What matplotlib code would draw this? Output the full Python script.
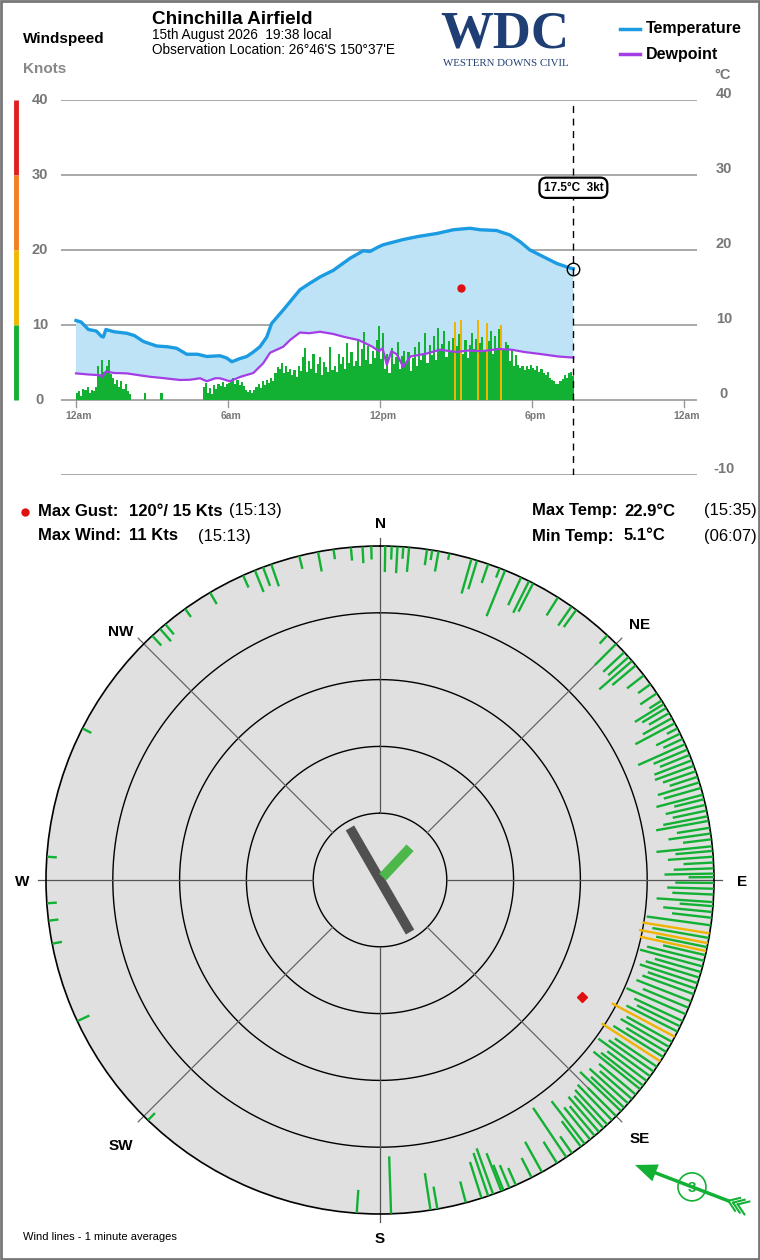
import numpy as np
import matplotlib
matplotlib.use("Agg")
import matplotlib.pyplot as plt
from matplotlib.patches import Rectangle, Polygon, Circle

plt.rcParams['font.family'] = ['Liberation Sans', 'DejaVu Sans']

# ---------------- data ----------------
TEMP_H = [0.0, 0.2, 0.49, 0.8, 1.0, 1.08, 1.18, 1.5, 2.0, 2.3, 2.66, 3.18, 3.6, 3.97, 4.37, 4.8,
          5.16, 5.68, 5.95, 6.15, 6.45, 6.74, 7.0, 7.26, 7.53, 7.72, 8.18, 8.84, 9.2, 9.63, 10.16,
          10.82, 11.34, 11.6, 11.93, 12.13, 12.92, 13.5, 14.24, 14.9, 15.55, 15.95, 16.6, 17.13,
          17.53, 17.92, 18.45, 18.98, 19.5, 19.63]
TEMP_C = [10.6, 10.4, 9.4, 9.2, 8.5, 8.4, 9.4, 9.1, 8.9, 8.6, 7.8, 7.2, 7.1, 6.9, 6.1, 6.1,
          5.8, 5.9, 5.6, 5.1, 5.5, 5.8, 6.4, 7.1, 8.4, 10.2, 12.0, 14.7, 15.5, 16.4, 17.3,
          18.9, 19.9, 19.8, 20.4, 20.7, 21.4, 21.8, 22.2, 22.7, 22.9, 22.7, 22.6, 22.0,
          21.1, 20.0, 19.1, 18.2, 17.6, 17.5]

DEW_H = [0.0, 0.5, 0.95, 1.05, 1.18, 1.5, 2.0, 2.5, 2.92, 3.5, 4.1, 4.5, 4.9, 5.16, 5.5, 5.68,
         6.07, 6.5, 7.0, 7.39, 7.66, 8.18, 8.45, 8.84, 9.2, 9.63, 10.16, 10.6, 11.15, 11.4, 11.7,
         11.96, 12.1, 12.27, 12.45, 12.66, 12.92, 13.2, 13.85, 14.37, 15.0, 15.5, 16.0, 16.7,
         17.2, 17.7, 18.4, 19.04, 19.63]
DEW_C = [3.55, 3.4, 3.3, 3.1, 3.8, 3.6, 3.55, 3.3, 3.1, 2.9, 2.67, 2.7, 2.9, 2.5, 2.9, 2.9,
         2.5, 3.1, 3.6, 4.9, 6.3, 7.1, 8.0, 9.0, 8.9, 9.1, 8.8, 8.4, 8.0, 7.6, 7.1,
         6.5, 6.9, 4.7, 6.5, 6.1, 4.4, 5.8, 6.2, 6.7, 6.4, 6.6, 6.5, 6.8,
         6.7, 6.4, 6.1, 5.8, 5.65]

# wind speed (kt), 5-minute steps from midnight
WIND_STEP_MIN = 5
WIND_KT = [
    0.9, 1.2, 0.6, 1.5, 1.3, 1.8, 1.0, 1.4, 1.2, 1.8, 4.5, 3.2,
    5.4, 3.8, 4.6, 5.3, 3.5, 2.9, 2.2, 2.7, 1.8, 2.5, 1.5, 2.1,
    1.2, 0.8, 0, 0, 0, 0, 0, 0, 0.9, 0, 0, 0,
    0, 0, 0, 0, 0.9, 0, 0, 0, 0, 0, 0, 0,
    0, 0, 0, 0, 0, 0, 0, 0, 0, 0, 0, 0,
    1.8, 2.3, 1.0, 1.6, 0.8, 2.0, 1.5, 2.2, 1.9, 2.4, 1.7, 2.1,
    2.3, 2.6, 2.9, 2.2, 2.7, 2.0, 2.4, 1.9, 1.3, 1.1, 1.4, 1.0,
    1.3, 1.8, 2.2, 1.6, 2.5, 2.0, 2.7, 2.3, 3.0, 2.6, 3.6, 4.4,
    4.2, 4.9, 3.6, 4.5, 3.8, 4.2, 3.4, 4.0, 3.1, 4.6, 3.9, 5.8,
    6.9, 3.8, 5.2, 4.1, 6.2, 3.6, 4.8, 5.8, 3.4, 5.1, 4.4, 3.8,
    7.1, 4.0, 4.6, 3.7, 6.2, 4.8, 5.8, 4.2, 7.6, 5.0, 6.4, 4.5,
    5.2, 8.2, 4.6, 6.8, 9.1, 5.4, 7.2, 4.8, 6.5, 5.6, 8.0, 9.9,
    5.5, 8.9, 4.2, 6.1, 3.6, 7.0, 4.8, 5.7, 7.8, 4.1, 5.9, 6.6,
    4.8, 6.4, 3.9, 5.6, 7.1, 4.5, 7.8, 5.3, 6.2, 8.9, 5.0, 7.4,
    6.0, 8.5, 5.4, 9.6, 6.8, 7.5, 9.2, 5.8, 7.9, 6.5, 8.3, 10.4,
    7.2, 8.8, 10.7, 6.1, 8.0, 5.6, 7.4, 9.0, 6.8, 8.2, 10.7, 7.6,
    8.4, 6.6, 10.3, 7.9, 9.2, 6.2, 8.5, 7.0, 9.5, 10.0, 6.8, 7.7,
    7.3, 5.2, 6.8, 4.6, 6.0, 4.7, 4.3, 4.6, 4.0, 4.5, 4.2, 4.7,
    4.3, 4.0, 4.5, 3.8, 4.1, 3.6, 3.4, 3.8, 3.0, 2.7, 2.5, 2.2,
    2.1, 2.5, 2.8, 3.3, 3.0, 3.6, 3.8, 3.2,
]

NOW_H = 19 + 38 / 60
NOW_TEMP = 17.5
NOW_WIND = 3
NOW_WIND_FROM = 111
MAX_GUST_H = 15 + 13 / 60
MAX_GUST_KT = 15
MAX_GUST_DIR = 120

X_TICKS = [0, 6, 12, 18, 24]
X_LABELS = ['12am', '6am', '12pm', '6pm', '12am']
Y_LEFT = [0, 10, 20, 30, 40]
Y_RIGHT = [-10, 0, 10, 20, 30, 40]

# polar wind lines (bearing deg, speed kt)
ROSE_DIR = [352, 355, 357, 358.5, 0.9, 2, 3, 4, 5, 8.1, 9, 10.1, 12, 15.9, 16.9, 18.9, 21, 22, 25, 26.5,
            27.3, 32.2, 35, 36, 42.9, 45, 47, 48.1, 49, 50, 52.2, 54.1,
            56, 57.5, 58.2, 59, 60, 61, 62, 63, 64, 65, 66, 67, 68, 69, 70, 71, 72, 73, 74, 75.2, 76,
            77, 78, 79, 79.8, 81, 82, 83, 84.2, 85, 86, 87, 88, 88.9, 89.5,
            90.5, 91.5, 92.5, 93.8, 94.5, 95.5, 96.5, 97.8, 99.2, 100, 100.9, 101.6, 102.3, 103, 104,
            105, 106, 107, 108, 109, 110, 111.3, 112.5, 113.7, 115, 116, 117, 118, 119, 120, 121, 122,
            122.9, 124, 125, 126, 127, 128, 128.8, 130, 131, 132, 133, 133.8, 135, 136, 137.1, 138,
            139, 140, 141, 142.2, 143, 144.9, 146.1, 148, 151, 153, 156, 157.2, 158.3, 158.7, 160.2,
            161.1, 162.3, 165.1, 170.1, 171.3, 178.1, 184,
            224, 245, 259, 263, 266, 274, 297, 317, 318.8, 320, 324.3, 329.4, 335.8, 338, 339.5, 341,
            346, 349.3]
ROSE_KT = [1.5, 2.0, 2.5, 2.0, 3.9, 2.0, 4.0, 1.8, 3.7, 2.4, 1.5, 3.1, 1.0, 5.4, 4.5, 3.0, 1.5, 7.4, 4.6, 5.3,
           4.8, 3.2, 3.5, 3.2, 1.7, 4.5, 4.3, 4.1, 6.5, 4.6, 3.2, 2.3,
           3.0, 2.2, 5.1, 4.2, 3.5, 5.0, 6.7, 1.8, 4.0, 3.2, 7.7, 5.5, 4.8, 6.0, 6.2, 5.2, 4.4, 6.5, 5.8, 7.2, 4.6,
           6.1, 5.2, 6.8, 8.0, 5.0, 6.4, 4.3, 8.4, 5.6, 6.8, 4.5, 6.0, 7.4, 3.8,
           5.8, 7.0, 6.2, 8.5, 5.0, 7.4, 6.0, 9.7, 10.2, 8.6, 10.5, 7.8, 10.2, 6.5, 8.8,
           9.7, 7.2, 8.4, 9.1, 7.6, 8.2, 8.8, 7.4, 9.7, 8.0, 7.2, 8.6, 10.7, 7.8, 8.4, 7.0, 8.8,
           10.5, 7.6, 8.2, 9.6, 7.4, 8.0, 9.0, 7.2, 6.4, 7.8, 6.8, 8.5, 6.0, 7.4, 7.1, 6.5,
           7.0, 5.8, 6.2, 8.1, 4.8, 3.1, 8.9, 3.8, 5.2, 3.3, 2.8, 3.7, 4.1, 6.1, 7.3,
           6.8, 5.7, 3.3, 3.4, 5.6, 8.6, 3.5,
           1.5, 2.0, 1.5, 1.5, 1.5, 1.5, 1.5, 2.0, 2.5, 2.0, 1.5, 2.0, 2.0, 3.5, 3.0, 3.5,
           2.0, 3.0]

VANE_DIR = 150
VANE_HALF_KT = 9
GREEN_DIR = 43
GREEN_KT = 6.6

# ---------------- figure ----------------
W, H = 760, 1260
fig = plt.figure(figsize=(W / 100, H / 100), dpi=100)
fig.patch.set_facecolor('white')

GRAY_TXT = '#777777'
GREEN = '#12b033'
YELLOW = '#f0b400'
BLUE = '#1a9be2'
PURPLE = '#a33de6'
FILL = '#bee3f6'

def fx(x):
    return x / W

def fy(y):
    return 1 - y / H

# ---- top chart ----
X0, X1 = 61, 697
PX_PER_H = 152 / 6
H_LEFT = (X0 - 76) / PX_PER_H
H_RIGHT = (X1 - 76) / PX_PER_H
ax = fig.add_axes([fx(X0), fy(475), (X1 - X0) / W, 375 / H])
ax.set_xlim(H_LEFT, H_RIGHT)
ax.set_ylim(-10, 40)
ax.axis('off')

for yv in Y_RIGHT:
    ax.axhline(yv, color='#9a9a9a', lw=1.2, zorder=1)

th = np.array(TEMP_H); tv = np.array(TEMP_C)
dh = np.array(DEW_H); dv = np.array(DEW_C)
ax.fill(np.concatenate([th, dh[::-1]]), np.concatenate([tv, dv[::-1]]),
        color=FILL, lw=0, zorder=2)

wk = np.array(WIND_KT)
wh = np.arange(len(wk)) * WIND_STEP_MIN / 60
wcol = [YELLOW if v >= 10 else GREEN for v in wk]
ax.bar(wh, wk, width=WIND_STEP_MIN / 60, align='edge', color=wcol, lw=0, zorder=3)

ax.plot(dh, dv, color=PURPLE, lw=1.6, zorder=4)
ax.plot(th, tv, color=BLUE, lw=2.4, zorder=5)

ax.plot([MAX_GUST_H], [MAX_GUST_KT], 'o', color='#e01010', ms=5, zorder=6)

ax.axvline(NOW_H, color='black', lw=1, dashes=(5, 4), zorder=6)
ax.plot([NOW_H], [NOW_TEMP], 'o', mfc='none', mec='black', ms=9, mew=1, zorder=7)
ax.text(NOW_H, 28.3, f'{NOW_TEMP:.1f}°C  {NOW_WIND}kt', ha='center', va='center',
        fontsize=8.5, fontweight='bold', zorder=8,
        bbox=dict(boxstyle='round,pad=0.35,rounding_size=0.6', fc='white', ec='black', lw=1.6))

for t, lab in zip(X_TICKS, X_LABELS):
    ax.plot([t, t], [0, -0.95], color='#999999', lw=1, clip_on=False)
    ax.text(t + 0.12, -2.15, lab, ha='center', va='center', fontsize=7.5,
            fontweight='bold', color=GRAY_TXT, clip_on=False)

ytr = ax.get_yaxis_transform()
for yv in Y_LEFT:
    ax.text((40 - X0) / (X1 - X0), yv, str(yv), transform=ytr, ha='center', va='center',
            fontsize=10.5, fontweight='bold', color=GRAY_TXT)
for yv in Y_RIGHT:
    ax.text((724 - X0) / (X1 - X0), yv + 0.8, str(yv), transform=ytr, ha='center', va='center',
            fontsize=10.5, fontweight='bold', color=GRAY_TXT)

# ---- polar chart ----
CX, CY, R = 380, 880, 334
pax = fig.add_axes([fx(CX - R), fy(CY + R), 2 * R / W, 2 * R / H], projection='polar')
pax.set_theta_zero_location('N')
pax.set_theta_direction(-1)
pax.set_ylim(0, 50)
pax.set_facecolor('#e0e0e0')
pax.grid(False)
pax.set_xticks([]); pax.set_yticks([])
pax.spines['polar'].set_color('black')
pax.spines['polar'].set_linewidth(1.2)

circ = np.linspace(0, 2 * np.pi, 400)
for rr in [10, 20, 30, 40]:
    pax.plot(circ, np.full_like(circ, rr), color='black', lw=1, zorder=2)
for b in range(0, 360, 45):
    col = '#555555' if b % 90 == 0 else '#666666'
    pax.plot([np.radians(b)] * 2, [10, 51.2], color=col, lw=0.9, zorder=2, clip_on=False)

for d, k in zip(ROSE_DIR, ROSE_KT):
    c = YELLOW if k >= 10 else GREEN
    pax.plot([np.radians(d)] * 2, [50, 50 - k], color=c, lw=1.7, zorder=3,
             solid_capstyle='butt')

pax.plot([np.radians(MAX_GUST_DIR)], [50 - MAX_GUST_KT], 'D', color='#e01010', ms=5, zorder=5)

pax.plot([np.radians(VANE_DIR + 180), 0, np.radians(VANE_DIR)],
         [VANE_HALF_KT, 0, VANE_HALF_KT], color='#505050', lw=7, zorder=4,
         solid_capstyle='butt')
pax.plot([np.radians(GREEN_DIR)] * 2, [0.6, GREEN_KT], color='#4cb84a', lw=7, zorder=5,
         solid_capstyle='butt')

# ---- overlay (texts, legend, decorations) ----
ov = fig.add_axes([0, 0, 1, 1], zorder=10)
ov.set_xlim(0, W); ov.set_ylim(H, 0)
ov.axis('off')
ov.patch.set_alpha(0)

ov.add_patch(Rectangle((1, 1), W - 2, H - 2, fill=False, ec='#777777', lw=2))

# left color scale
for y0, y1, c in [(100, 175, '#e02020'), (175, 250, '#f08020'), (250, 325, '#f0b800'),
                  (325, 400, '#12b033')]:
    ov.plot([16, 16], [y0, y1], color=c, lw=3.5, solid_capstyle='butt')

ov.text(23, 39, 'Windspeed', fontsize=11, fontweight='bold', va='center')
ov.text(23, 69, 'Knots', fontsize=11, fontweight='bold', va='center', color='#888888')
ov.text(152, 19, 'Chinchilla Airfield', fontsize=13.6, fontweight='bold', va='center')
ov.text(152, 35, '15th August 2026  19:38 local', fontsize=9.8, va='center')
ov.text(152, 50, "Observation Location: 26°46'S 150°37'E", fontsize=9.8, va='center')
ov.text(723, 75, '°C', fontsize=10.5, fontweight='bold', color=GRAY_TXT, ha='center', va='center')

ov.text(505, 48, 'WDC', family=['Liberation Serif', 'DejaVu Serif'], fontweight='bold',
        fontsize=38, color='#1f3f74', ha='center', va='baseline')
ov.text(506, 63.5, 'WESTERN DOWNS CIVIL', family=['Liberation Serif', 'DejaVu Serif'],
        fontsize=7.8, color='#1f3f74', ha='center', va='center')

ov.plot([620, 640], [29, 29], color=BLUE, lw=2.5)
ov.plot([620, 640], [54, 54], color=PURPLE, lw=2.5)
ov.text(646, 29, 'Temperature', fontsize=11.5, fontweight='bold', va='center')
ov.text(646, 54, 'Dewpoint', fontsize=11.5, fontweight='bold', va='center')

NARROW = ['Liberation Sans Narrow', 'Liberation Sans', 'DejaVu Sans']
ov.plot([25], [512], 'o', color='#e01010', ms=5)
ov.text(38, 511, 'Max Gust:', family=NARROW, fontsize=12, fontweight='bold', va='center')
ov.text(129, 511, f'{MAX_GUST_DIR}°/ {MAX_GUST_KT} Kts', family=NARROW, fontsize=12,
        fontweight='bold', va='center')
ov.text(229, 511, '(15:13)', family=NARROW, fontsize=12, va='center')
ov.text(38, 536, 'Max Wind:', family=NARROW, fontsize=12, fontweight='bold', va='center')
ov.text(129, 536, '11 Kts', family=NARROW, fontsize=12, fontweight='bold', va='center')
ov.text(198, 536, '(15:13)', family=NARROW, fontsize=12, va='center')
ov.text(532, 511, 'Max Temp:', family=NARROW, fontsize=12, fontweight='bold', va='center')
ov.text(624, 511, '22.9°C', family=NARROW, fontsize=12, fontweight='bold', va='center')
ov.text(704, 511, '(15:35)', family=NARROW, fontsize=12, va='center')
ov.text(532, 536, 'Min Temp:', family=NARROW, fontsize=12, fontweight='bold', va='center')
ov.text(624, 536, '5.1°C', family=NARROW, fontsize=12, fontweight='bold', va='center')
ov.text(704, 536, '(06:07)', family=NARROW, fontsize=12, va='center')

for lab, x, y in [('N', 380, 524), ('NE', 640, 625), ('E', 742, 882), ('SE', 640, 1139),
                  ('S', 380, 1239), ('SW', 121, 1146), ('W', 22, 882), ('NW', 121, 632)]:
    ov.text(x, y, lab, fontsize=11, fontweight='bold', ha='center', va='center')

ov.text(23, 1237, 'Wind lines - 1 minute averages', fontsize=8, va='center')

# current wind arrow (bottom right)
toward = np.radians(NOW_WIND_FROM + 180)
u = np.array([np.sin(toward), -np.cos(toward)])
p = np.array([-u[1], u[0]])
head = np.array([635.0, 1165.0])
base = head - 22 * u
cc = head - 61 * u
tail = head - 100 * u
ov.add_patch(Polygon([head, base + 9 * p, base - 9 * p], closed=True, color=GREEN, lw=0))
ov.plot([base[0], tail[0]], [base[1], tail[1]], color=GREEN, lw=2.5)
for s in [0, 5, 10]:
    q = tail - s * u
    for ang in [35, -35]:
        a = np.radians(ang)
        v = -u * np.cos(a) + p * np.sin(a)
        e = q + 12 * v
        ov.plot([q[0], e[0]], [q[1], e[1]], color=GREEN, lw=1.5)
ov.add_patch(Circle(cc, 14, fc='white', ec=GREEN, lw=1.2))
ov.text(cc[0], cc[1] + 1, str(NOW_WIND), color=GREEN, fontsize=11, fontweight='bold',
        ha='center', va='center')

fig.savefig('out.png', dpi=100)
